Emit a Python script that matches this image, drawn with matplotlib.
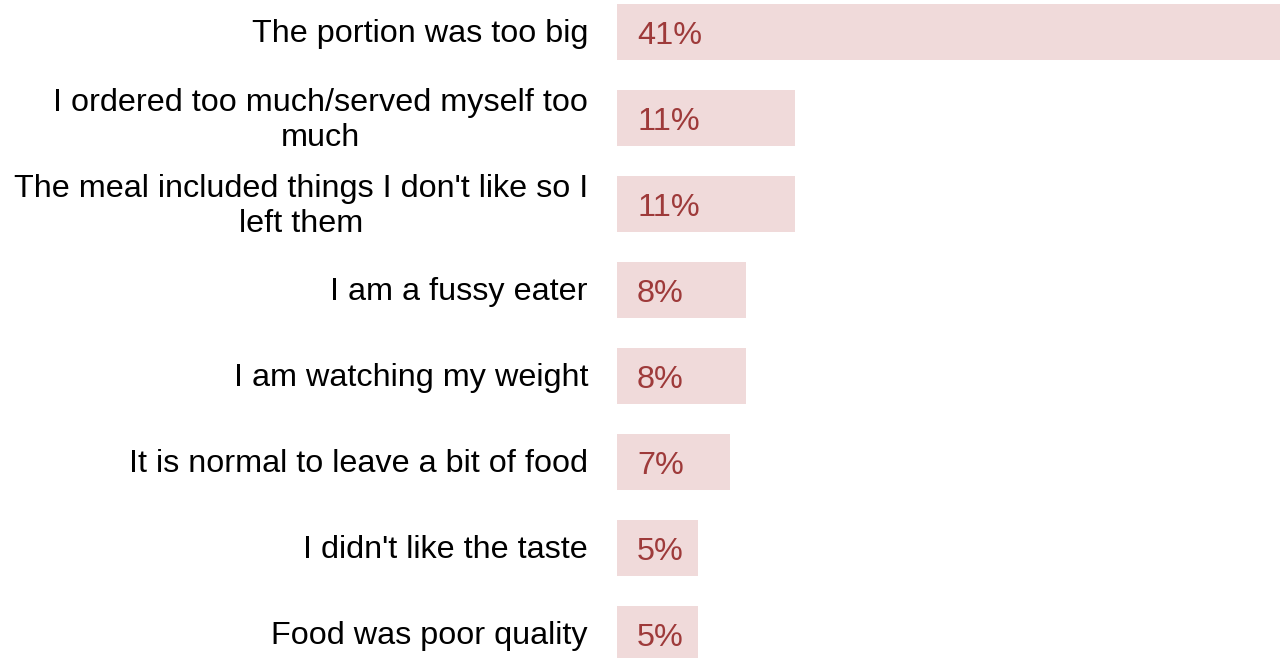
import matplotlib
matplotlib.use("Agg")
import matplotlib.pyplot as plt

categories = [
    "The portion was too big",
    "I ordered too much/served myself too\nmuch",
    "The meal included things I don't like so I\nleft them",
    "I am a fussy eater",
    "I am watching my weight",
    "It is normal to leave a bit of food",
    "I didn't like the taste",
    "Food was poor quality",
]
values = [41, 11, 11, 8, 8, 7, 5, 5]
value_labels = ["41%", "11%", "11%", "8%", "8%", "7%", "5%", "5%"]

plt.rcParams['font.family'] = ['Liberation Sans', 'DejaVu Sans']

fig = plt.figure(figsize=(12.8, 6.58), dpi=100)
ax = fig.add_axes([617 / 1280, 0, 1 - 617 / 1280, 1])

bar_color = "#f0dada"
text_color = "#9e3a3a"
ypos = list(range(len(categories)))
ax.barh(ypos, values, height=0.64, color=bar_color)

ax.set_xlim(0, 41)
ax.set_ylim((658 - 32) / 86, -32 / 86)

fs = 23.3
for y, lab in zip(ypos, value_labels):
    ax.annotate(lab, xy=(0, y), xytext=(20, -12.5), textcoords="offset pixels",
                ha="left", va="baseline", fontsize=fs, color=text_color)

renderer = fig.canvas.get_renderer()
for y, cat in zip(ypos, categories):
    lines = cat.split("\n")
    if len(lines) == 1:
        ax.annotate(cat, xy=(0, y), xytext=(-29, -10), textcoords="offset pixels",
                    ha="right", va="baseline",
                    fontsize=fs, color="black", annotation_clip=False)
    else:
        t1 = ax.annotate(lines[0], xy=(0, y), xytext=(-29, 7), textcoords="offset pixels",
                         ha="right", va="baseline",
                         fontsize=fs, color="black", annotation_clip=False)
        w = t1.get_window_extent(renderer).width
        ax.annotate(lines[1], xy=(0, y), xytext=(-29 - w / 2, 7 - 35.5),
                    textcoords="offset pixels", ha="center", va="baseline",
                    fontsize=fs, color="black", annotation_clip=False)

ax.axis("off")
fig.savefig("out.png", dpi=100)
